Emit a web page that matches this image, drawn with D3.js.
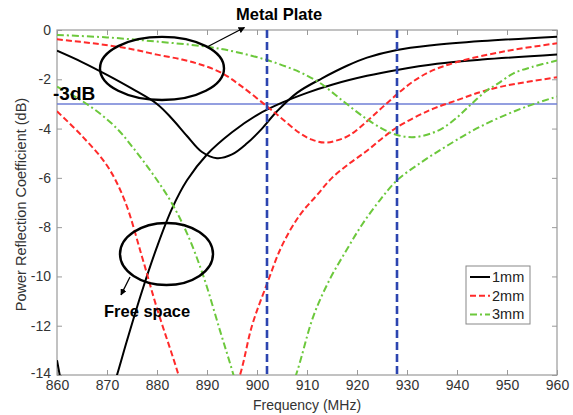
<!DOCTYPE html>
<html><head><meta charset="utf-8">
<script src="https://cdn.jsdelivr.net/npm/d3@7"></script>
<style>body{margin:0;background:#fff}svg{display:block}text{font-family:Arial,"Liberation Sans",sans-serif}</style>
</head><body><svg id="c" width="573" height="415"></svg>
<script>
// ---- data (frequency MHz, reflection dB) ----
const xTicks = [860,870,880,890,900,910,920,930,940,950,960];
const yTicks = [0,-2,-4,-6,-8,-10,-12,-14];
const markerFreqs = [902, 928];
const refLevel = -3;
const seriesNames = ["1mm","2mm","3mm"];

const metal1mm = [[860,-0.84],[865,-1.3],[870,-1.82],[875,-2.38],[880,-3.0],[883,-3.6],[886,-4.3],[889,-4.95],[892,-5.2],[895,-5.05],[898,-4.6],[901,-4.0],[904,-3.3],[908,-2.55],[913,-1.96],[918,-1.45],[922,-1.12],[928,-0.81],[935,-0.62],[945,-0.45],[960,-0.27]];
const free1mm  = [[860,-13.4],[862,-15.5],[866,-19],[870,-15.3],[872,-14],[874,-12.6],[877,-10.6],[880,-8.8],[883,-7.25],[886,-6.1],[890,-5.05],[895,-4.15],[900,-3.45],[905,-2.95],[910,-2.55],[915,-2.22],[922,-1.86],[928,-1.62],[936,-1.37],[945,-1.2],[960,-0.99]];
const metal2mm = [[860,-0.38],[868,-0.56],[875,-0.78],[880,-1.0],[885,-1.2],[889,-1.42],[893,-1.75],[897,-2.3],[902,-3.1],[905,-3.6],[908.6,-4.19],[911,-4.45],[913.6,-4.57],[916,-4.48],[918.6,-4.26],[922,-3.7],[925,-3.15],[928,-2.61],[931,-2.12],[934.6,-1.69],[940,-1.3],[950,-0.85],[960,-0.54]];
const free2mm  = [[860,-3.3],[865,-4.3],[870,-5.5],[873.5,-6.9],[877,-9.2],[880,-11.3],[884.3,-14],[887,-16],[890,-17],[893,-16],[896.6,-14],[899,-12],[902,-10.3],[905,-8.75],[908.6,-7.5],[912,-6.7],[915,-6.0],[918.6,-5.4],[922,-4.9],[925,-4.4],[928,-3.95],[934.6,-3.25],[940,-2.85],[945,-2.5],[950,-2.25],[960,-1.92]];
const metal3mm = [[860,-0.2],[870,-0.3],[880,-0.47],[890,-0.68],[896,-0.9],[902,-1.22],[906,-1.5],[909,-1.75],[912.6,-2.15],[917,-2.85],[921.5,-3.55],[925,-4.0],[928,-4.26],[931,-4.35],[934,-4.25],[937,-4.0],[940,-3.55],[943,-2.98],[946,-2.45],[948,-2.2],[951.3,-1.76],[955,-1.5],[960,-1.24]];
const free3mm  = [[860,-2.3],[864,-2.75],[868,-3.3],[872,-4.0],[875.3,-4.8],[879,-5.8],[882.6,-6.9],[886,-8.25],[889.3,-10.0],[892.6,-12.2],[895.3,-14],[898,-16],[901,-17],[904,-16],[907.8,-14],[911.3,-11.6],[914.6,-10.1],[918,-8.9],[921,-7.9],[924.6,-6.9],[928,-6.1],[933,-5.35],[938,-4.7],[943,-4.1],[948,-3.6],[954,-3.1],[960,-2.7]];

const series = [
  {name:"1mm", color:"#000000", dash:null, curves:[metal1mm, free1mm]},
  {name:"2mm", color:"#ff2a2a", dash:"6,3", curves:[metal2mm, free2mm]},
  {name:"3mm", color:"#6cc83c", dash:"7,3,2,3", curves:[metal3mm, free3mm]}
];

// ---- layout ----
const W=573,H=415, m={l:57,t:30,r:16,b:40};
const svg=d3.select("#c");
const x=d3.scaleLinear().domain([860,960]).range([m.l,W-m.r]);
const y=d3.scaleLinear().domain([-14,0]).range([H-m.b,m.t]);
const axisCol="#9a9a9a", txtCol="#333";

svg.append("defs").append("clipPath").attr("id","clip").append("rect")
  .attr("x",m.l).attr("y",m.t).attr("width",W-m.l-m.r).attr("height",H-m.t-m.b);

// frame
svg.append("rect").attr("x",m.l).attr("y",m.t).attr("width",W-m.l-m.r).attr("height",H-m.t-m.b)
  .attr("fill","#fff").attr("stroke",axisCol).attr("stroke-width",1.2);

// axes (ticks inward)
function styleAxis(g){g.select(".domain").remove();g.selectAll(".tick line").attr("stroke",axisCol);
  g.selectAll(".tick text").attr("fill",txtCol).style("font-size","14px").style("font-family","Arial, 'Liberation Sans', sans-serif");}
svg.append("g").attr("transform",`translate(0,${H-m.b})`)
  .call(d3.axisBottom(x).tickValues(xTicks).tickSize(-5).tickPadding(5)).call(styleAxis);
svg.append("g").attr("transform",`translate(0,${m.t})`)
  .call(d3.axisTop(x).tickValues(xTicks).tickSize(-5).tickFormat("")).call(styleAxis);
const yAx=svg.append("g").attr("transform",`translate(${m.l},0)`)
  .call(d3.axisLeft(y).tickValues(yTicks).tickSize(-5).tickPadding(6).tickFormat(d=>String(d))).call(styleAxis);
yAx.selectAll(".tick text").filter(d=>d===-14).attr("dy","0.2em");
svg.append("g").attr("transform",`translate(${W-m.r},0)`)
  .call(d3.axisRight(y).tickValues(yTicks).tickSize(-5).tickFormat("")).call(styleAxis);

// axis titles
svg.append("text").attr("x",(m.l+W-m.r)/2).attr("y",410).attr("text-anchor","middle")
  .attr("fill",txtCol).style("font-size","14px").text("Frequency (MHz)");
svg.append("text").attr("transform",`translate(26,${(m.t+H-m.b)/2+2}) rotate(-90)`).attr("text-anchor","middle")
  .attr("fill",txtCol).style("font-size","14.5px").text("Power Reflection Coefficient (dB)");

const plot=svg.append("g").attr("clip-path","url(#clip)");

// -3dB reference
plot.append("line").attr("x1",x(860)).attr("x2",x(960)).attr("y1",y(refLevel)).attr("y2",y(refLevel))
  .attr("stroke","#6f7fd6").attr("stroke-width",1.6);

// curves
const line=d3.line().x(d=>x(d[0])).y(d=>y(d[1])).curve(d3.curveCatmullRom.alpha(0.5));
series.forEach(s=>{
  s.curves.forEach(c=>{
    plot.append("path").datum(c).attr("d",line).attr("fill","none")
      .attr("stroke",s.color).attr("stroke-width",2).attr("stroke-dasharray",s.dash);
  });
});

// band marker lines
markerFreqs.forEach(f=>{
  plot.append("line").attr("x1",x(f)).attr("x2",x(f)).attr("y1",y(0)).attr("y2",y(-14))
    .attr("stroke","#2c45b0").attr("stroke-width",2.6).attr("stroke-dasharray","8,4");
});

// annotations
svg.append("defs").append("marker").attr("id","ah").attr("viewBox","0 0 10 10").attr("refX",9).attr("refY",5)
  .attr("markerWidth",5).attr("markerHeight",5).attr("orient","auto")
  .append("path").attr("d","M0,0L10,5L0,10Z").attr("fill","#000");

const ann=svg.append("g");
// metal plate ellipse
ann.append("ellipse").attr("cx",x(881)).attr("cy",y(-1.56)).attr("rx",x(881+12.4)-x(881)).attr("ry",y(-1.56-1.28)-y(-1.56))
  .attr("fill","none").attr("stroke","#000").attr("stroke-width",2.4);
ann.append("line").attr("x1",x(890)).attr("y1",y(-0.69)).attr("x2",x(897.5)).attr("y2",y(0.1))
  .attr("stroke","#000").attr("stroke-width",1.3).attr("marker-end","url(#ah)");
ann.append("text").attr("x",x(895.8)).attr("y",y(0.41)).attr("fill","#000")
  .style("font-size","16.5px").style("font-weight","bold").text("Metal Plate");
// free space ellipse
ann.append("ellipse").attr("cx",x(881.9)).attr("cy",y(-9.09)).attr("rx",x(881.9+9.3)-x(881.9)).attr("ry",y(-9.09-1.26)-y(-9.09))
  .attr("fill","none").attr("stroke","#000").attr("stroke-width",2.4);
ann.append("line").attr("x1",x(874.6)).attr("y1",y(-10.02)).attr("x2",x(872.8)).attr("y2",y(-10.75))
  .attr("stroke","#000").attr("stroke-width",1.3).attr("marker-end","url(#ah)");
ann.append("text").attr("x",x(869.4)).attr("y",y(-11.65)).attr("fill","#000")
  .style("font-size","16.5px").style("font-weight","bold").text("Free space");
// -3dB label
ann.append("text").attr("x",x(859.2)).attr("y",y(-2.83)).attr("fill","#000")
  .style("font-size","19px").style("font-weight","bold").text("-3dB");

// legend
const lg=svg.append("g").attr("transform","translate(466,266)");
lg.append("rect").attr("width",64).attr("height",58).attr("fill","#fff").attr("stroke","#888").attr("stroke-width",1);
series.forEach((s,i)=>{
  const yy=11+i*18.7;
  lg.append("line").attr("x1",4).attr("x2",24).attr("y1",yy).attr("y2",yy)
    .attr("stroke",s.color).attr("stroke-width",2).attr("stroke-dasharray",s.dash);
  lg.append("text").attr("x",26).attr("y",yy+5).attr("fill","#222").style("font-size","14.5px").text(s.name);
});
</script></body></html>
